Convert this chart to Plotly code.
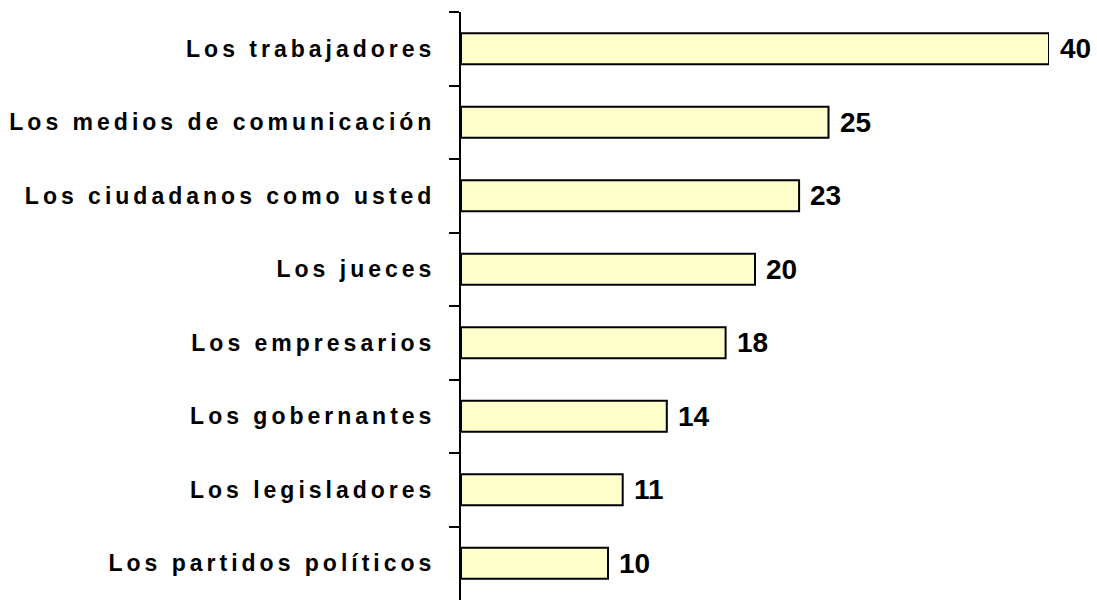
import plotly.graph_objects as go

categories = [
    "Los trabajadores",
    "Los medios de comunicación",
    "Los ciudadanos como usted",
    "Los jueces",
    "Los empresarios",
    "Los gobernantes",
    "Los legisladores",
    "Los partidos políticos",
]
values = [40, 25, 23, 20, 18, 14, 11, 10]

FONT = "Liberation Sans, Arial, sans-serif"

fig = go.Figure()
fig.add_trace(go.Bar(
    x=values,
    y=categories,
    orientation="h",
    width=0.42,
    marker=dict(color="#FFFFCC", line=dict(color="black", width=2)),
    hoverinfo="x+y",
))

annotations = [
    dict(x=v, y=c, xref="x", yref="y", text=str(v), showarrow=False,
         xanchor="left", yanchor="middle", xshift=9,
         font=dict(family=FONT, size=28, color="black", weight="bold"))
    for c, v in zip(categories, values)
]

fig.update_layout(
    width=1097, height=600,
    margin=dict(l=461, r=48, t=12, b=0),
    paper_bgcolor="white", plot_bgcolor="white",
    showlegend=False,
    annotations=annotations,
    xaxis=dict(range=[0, 40], visible=False, fixedrange=True),
    yaxis=dict(
        type="category",
        autorange="reversed",
        showline=True, linecolor="black", linewidth=2,
        ticks="outside", ticklen=10, tickwidth=2, tickcolor="black",
        tickson="boundaries",
        showgrid=False, zeroline=False,
        tickfont=dict(family=FONT, size=23, color="black", weight="bold"),
        ticklabelstandoff=19,
        automargin=False,
        fixedrange=True,
    ),
)

post = """
document.body.style.margin = '0';
document.body.style.padding = '0';
var gd = document.getElementById('{plot_id}');
function ls(){
  gd.querySelectorAll('.ytick text').forEach(function(t){
    t.setAttribute('letter-spacing','4px');
    t.style.letterSpacing='4px';
  });
}
ls();
gd.on('plotly_afterplot', ls);
"""

fig.write_html("out.html", post_script=post, config={"displayModeBar": False})
